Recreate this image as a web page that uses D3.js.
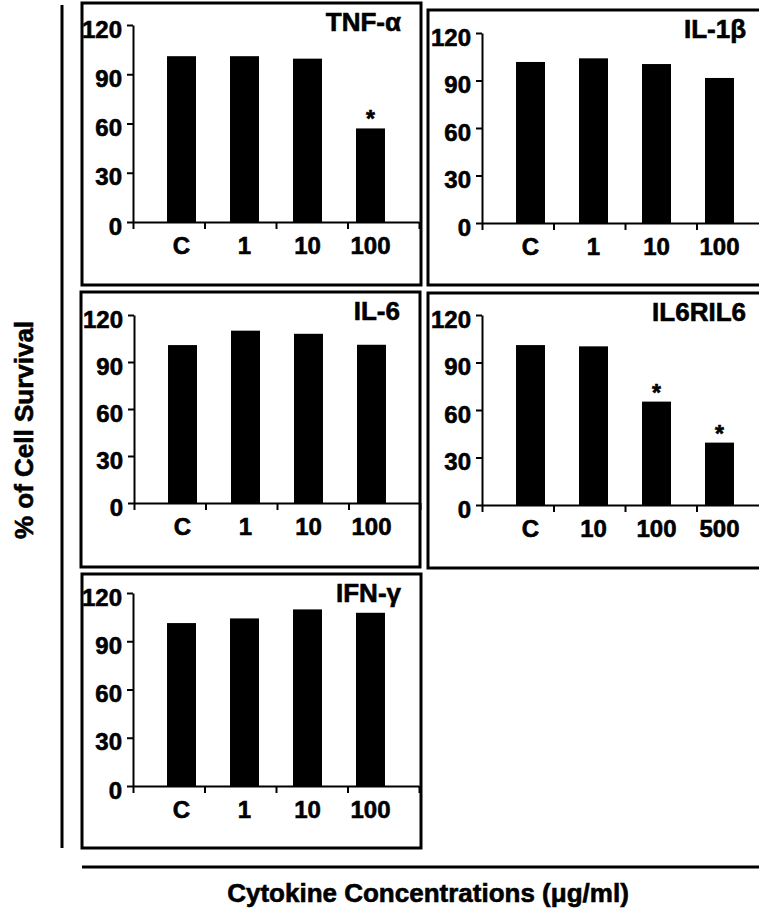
<!DOCTYPE html>
<html>
<head>
<meta charset="utf-8">
<script src="https://cdn.jsdelivr.net/npm/d3@7"></script>
<style>
  body { margin: 0; background: #fff; }
  svg text { font-family: "Liberation Sans", Arial, sans-serif; font-weight: bold; fill: #000; stroke: #000; stroke-width: 0.6px; }
</style>
</head>
<body>
<div id="root"></div>
<script>
// chart values
var panelNames = ["TNF-α", "IL-1β", "IL-6", "IL6RIL6", "IFN-γ"];
var concLabels = [
  ["C", "1", "10", "100"],
  ["C", "1", "10", "100"],
  ["C", "1", "10", "100"],
  ["C", "10", "100", "500"],
  ["C", "1", "10", "100"]
];
var survival = [
  [101, 101, 99.5, 57],
  [101.7, 104, 100.4, 91.6],
  [100.8, 110, 108, 101],
  [101, 100.2, 65.3, 39.4],
  [101.3, 104.2, 109.8, 107.7]
];
var significant = [
  [false, false, false, true],
  [false, false, false, false],
  [false, false, false, false],
  [false, false, true, true],
  [false, false, false, false]
];
var yTicks = [0, 30, 60, 90, 120];
var yTitle = "% of Cell Survival";
var xTitle = "Cytokine Concentrations (μg/ml)";

// panel boxes and plot areas (pixels)
var layout = [
  {left: 82, top: 3, right: 421, bottom: 285, ax: 133, yTop: 25, yZero: 222},
  {left: 428, top: 10, right: 778, bottom: 285, ax: 482, yTop: 33, yZero: 223},
  {left: 81, top: 292, right: 420, bottom: 567, ax: 134, yTop: 315, yZero: 503},
  {left: 428, top: 293, right: 778, bottom: 568, ax: 482, yTop: 315, yZero: 505},
  {left: 82, top: 574, right: 421, bottom: 848, ax: 133, yTop: 593, yZero: 786}
];

var width = 759, height = 911;
var step = 71.5;

var svg = d3.select("#root")
  .append("svg")
  .attr("width", width)
  .attr("height", height);

panelNames.forEach(function (name, i) {
  var L = layout[i];
  var g = svg.append("g");

  var rows = concLabels[i].map(function (c, j) {
    return {conc: c, value: survival[i][j], sig: significant[i][j]};
  });

  // frame
  g.append("rect")
    .attr("x", L.left)
    .attr("y", L.top)
    .attr("width", L.right - L.left)
    .attr("height", L.bottom - L.top)
    .attr("fill", "none")
    .attr("stroke", "black")
    .attr("stroke-width", 3);

  var xEnd = L.ax + step * rows.length;
  var x = d3.scaleBand().domain(concLabels[i]).range([L.ax, xEnd]).padding(0.54);
  var xEdges = d3.scaleLinear().domain([0, rows.length]).range([L.ax, xEnd]);
  var y = d3.scaleLinear().domain([0, 120]).range([L.yZero, L.yTop]);

  // bars
  g.selectAll(".bar")
    .data(rows)
    .enter()
    .append("rect")
    .classed("bar", true)
    .attr("x", function (d) { return x(d.conc); })
    .attr("y", function (d) { return y(d.value); })
    .attr("width", x.bandwidth())
    .attr("height", function (d) { return y(0) - y(d.value); })
    .attr("fill", "black");

  // significance marks
  g.selectAll(".star")
    .data(rows.filter(function (d) { return d.sig; }))
    .enter()
    .append("text")
    .classed("star", true)
    .attr("x", function (d) { return x(d.conc) + x.bandwidth() / 2; })
    .attr("y", function (d) { return y(d.value) - 1; })
    .attr("text-anchor", "middle")
    .attr("font-size", 23)
    .text("*");

  // y axis
  var yAxis = g.append("g")
    .attr("transform", "translate(" + L.ax + ",0)")
    .call(d3.axisLeft(y).tickValues(yTicks).tickSize(6).tickSizeOuter(0).tickPadding(5));
  yAxis.attr("font-family", null).attr("font-size", null);
  yAxis.selectAll("path, line").attr("stroke", "black").attr("stroke-width", 2);
  yAxis.selectAll("text").attr("font-size", 24).attr("dy", "0.5em");

  // x axis: ticks between categories
  var xAxis = g.append("g")
    .attr("transform", "translate(0," + L.yZero + ")")
    .call(d3.axisBottom(xEdges).tickValues(d3.range(rows.length + 1)).tickFormat("").tickSize(7).tickSizeOuter(0));
  xAxis.selectAll("path, line").attr("stroke", "black").attr("stroke-width", 2);

  var xLab = g.append("g")
    .attr("transform", "translate(0," + L.yZero + ")")
    .call(d3.axisBottom(x).tickSize(0).tickPadding(15));
  xLab.select(".domain").remove();
  xLab.attr("font-family", null).attr("font-size", null);
  xLab.selectAll("text").attr("font-size", 24).attr("dy", "0.72em");

  // panel title
  g.append("text")
    .attr("x", L.left + (i % 2 === 0 ? 319 : 318))
    .attr("y", L.top + 28)
    .attr("text-anchor", "end")
    .attr("font-size", 26)
    .text(name);
});

// outer axis lines
svg.append("line")
  .attr("x1", 62).attr("x2", 62)
  .attr("y1", 5).attr("y2", 848)
  .attr("stroke", "black").attr("stroke-width", 3);

svg.append("line")
  .attr("x1", 82).attr("x2", width)
  .attr("y1", 867).attr("y2", 867)
  .attr("stroke", "black").attr("stroke-width", 3);

svg.append("text")
  .attr("x", 428)
  .attr("y", 902)
  .attr("text-anchor", "middle")
  .attr("font-size", 26)
  .text(xTitle);

svg.append("text")
  .attr("transform", "translate(33,430) rotate(-90)")
  .attr("text-anchor", "middle")
  .attr("font-size", 26)
  .text(yTitle);
</script>
</body>
</html>
